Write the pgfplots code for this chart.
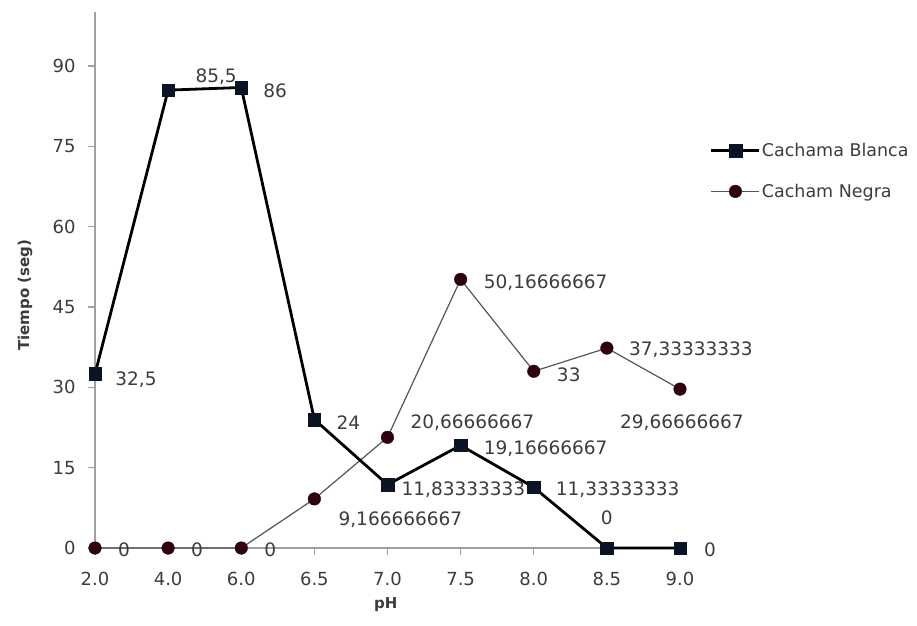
\documentclass[border=0pt]{standalone}
\usepackage{pgfplots}
\pgfplotsset{compat=1.18}
\usepackage{pgfplotstable}
\usepackage{fontspec}
\setmainfont{DejaVu Sans}

\definecolor{txt}{HTML}{3C3C3C}
\definecolor{axisgray}{HTML}{A0A0A0}
\definecolor{blancamark}{HTML}{0A1424}
\definecolor{negramark}{HTML}{2E0010}
\definecolor{negraline}{HTML}{555555}

% columns: category index, time, printed label, label offset (dx, dy)
\pgfplotstableread{
x y lab dx dy
0 32.5 32,5 41 -6
1 85.5 85,5 48 13
2 86 86 34 -3
3 24 24 34 -3
4 11.83333333 11,83333333 76 -5
5 19.16666667 19,16666667 85 -3
6 11.33333333 11,33333333 84 -2
7 0 0 0 30
8 0 0 30 -2
}\blanca

\pgfplotstableread{
x y lab dx dy
0 0 0 29 -2
1 0 0 29 -2
2 0 0 29 -2
3 9.166666667 9,166666667 86 -21
4 20.66666667 20,66666667 85 15
5 50.16666667 50,16666667 85 -3
6 33 33 35 -3
7 37.33333333 37,33333333 84 -2
8 29.66666667 29,66666667 2 -34
}\negra

\begin{document}
\begin{tikzpicture}
\path[use as bounding box] (0,0) rectangle (917pt,625pt);
% outward tick marks (axis origin at 95pt,77pt; 73.125pt per category, 5.355pt per unit)
\foreach \i in {0,...,8} {
  \draw[axisgray, line width=1.3pt] ({95pt+\i*73.125pt},77pt) -- ++(0pt,-7pt);
}
\foreach \v in {0,15,...,90} {
  \draw[axisgray, line width=1.3pt] (95pt,{77pt+\v*5.355pt}) -- ++(-7pt,0pt);
}
\begin{axis}[
  at={(95pt,77pt)}, anchor=south west,
  scale only axis, width=585pt, height=535.5pt,
  xmin=0, xmax=8, ymin=0, ymax=100,
  clip=false,
  axis x line*=bottom,
  axis y line*=left,
  axis line style={draw=axisgray, line width=1.5pt},
  xtick align=outside,
  ytick align=outside,
  tickwidth=6pt,
  tick style={draw=axisgray, line width=1.2pt, solid},
  xtick={0,...,8},
  xticklabels={2.0,4.0,6.0,6.5,7.0,7.5,8.0,8.5,9.0},
  ytick={0,15,30,45,60,75,90},
  ticklabel style={font=\fontsize{18}{20}\selectfont, text=txt},
  xticklabel style={yshift=-15pt},
  yticklabel style={xshift=-10pt},
  /pgf/number format/assume math mode=true,
  xlabel={pH}, ylabel={Tiempo (seg)},
  label style={font=\fontsize{15}{17}\selectfont\bfseries, text=txt},
  xlabel style={at={(rel axis cs:0.497,-0.1064)}, anchor=center},
  ylabel style={at={(rel axis cs:-0.1197,0.472)}, anchor=center, rotate=0},
  point meta=explicit symbolic,
  nodes near coords,
  visualization depends on={\thisrow{dx} \as \labdx},
  visualization depends on={\thisrow{dy} \as \labdy},
  every node near coord/.append style={anchor=center, xshift=\labdx pt, yshift=\labdy pt,
    font=\fontsize{18.5}{20}\selectfont, text=txt, inner sep=0pt},
  legend image code/.code={\draw[mark repeat=2, mark phase=2, #1]
    plot coordinates {(0pt,0pt) (24pt,0pt) (48pt,0pt)};},
  legend cell align=left,
  reverse legend,
  legend style={draw=none, fill=none, at={(rel axis cs:1.051,0.704)}, anchor=west,
    font=\fontsize{17.5}{20}\selectfont, text=txt, inner sep=0pt, row sep=24pt,
    nodes={inner sep=1pt}},
]
\addplot[draw=negraline, line width=1.2pt, mark=*, mark size=6.3pt,
  mark options={draw=negramark, fill=negramark, line width=0.4pt}]
  table[x=x, y=y, meta=lab] {\negra};
\addplot[draw=black, line width=2.8pt, mark=square*, mark size=6.3pt,
  mark options={draw=blancamark, fill=blancamark, line width=0.4pt}]
  table[x=x, y=y, meta=lab] {\blanca};
\legend{Cacham Negra, Cachama Blanca}
\end{axis}
\end{tikzpicture}
\end{document}
